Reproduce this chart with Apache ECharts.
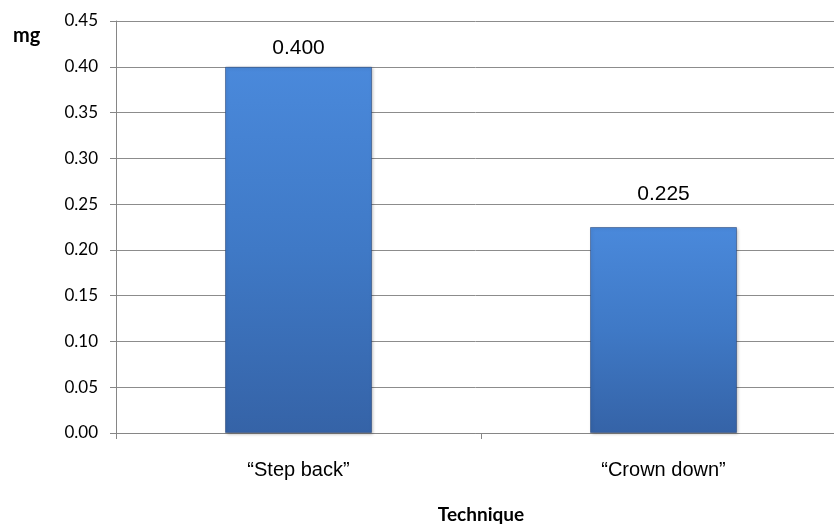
<!DOCTYPE html>
<html>
<head>
<meta charset="utf-8">
<script src="https://cdn.jsdelivr.net/npm/echarts@6/dist/echarts.min.js"></script>
<style>
  html, body { margin: 0; padding: 0; background: #ffffff; overflow: hidden; }
  #chart { width: 834px; height: 525px; }
</style>
</head>
<body>
<div id="chart"></div>
<script>
// Mass removed per instrumentation technique (mg)
const categories = ['\u201CStep back\u201D', '\u201CCrown down\u201D'];
const values = [0.400, 0.225];
const valueLabels = ['0.400', '0.225'];
const labelGaps = [8, 22];
const yTicks = { min: 0, max: 0.45, interval: 0.05 };

const chart = echarts.init(document.getElementById('chart'));

const barFill = new echarts.graphic.LinearGradient(0, 0, 0, 1, [
  { offset: 0, color: '#4a89db' },
  { offset: 0.5, color: '#3f79c6' },
  { offset: 1, color: '#3563a7' }
]);

chart.setOption({
  animation: false,
  backgroundColor: '#ffffff',
  // plot area runs slightly past the right edge of the canvas
  grid: {
    left: 116, width: 730, top: 21, height: 412,
    containLabel: false,
    outerBoundsMode: 'none'
  },
  xAxis: {
    type: 'category',
    data: categories,
    name: 'Technique',
    nameLocation: 'middle',
    nameGap: 72,
    nameTextStyle: { fontFamily: 'Lato', fontWeight: 'bold', fontSize: 19, color: '#000' },
    axisLine: { lineStyle: { color: '#868686', width: 1 } },
    axisTick: { show: true, length: 6, lineStyle: { color: '#868686' } },
    axisLabel: { margin: 27, fontFamily: 'Liberation Sans', fontSize: 20, color: '#000' }
  },
  yAxis: {
    type: 'value',
    min: yTicks.min,
    max: yTicks.max,
    interval: yTicks.interval,
    axisLine: { show: true, lineStyle: { color: '#868686', width: 1 } },
    axisTick: { show: true, length: 6, lineStyle: { color: '#868686' } },
    axisLabel: {
      margin: 18,
      fontFamily: 'Lato',
      fontSize: 17,
      color: '#000',
      formatter: v => v.toFixed(2)
    },
    splitLine: { lineStyle: { color: '#8c8c8c', width: 1 } }
  },
  graphic: [
    {
      type: 'text',
      left: 13,
      top: 26,
      style: { text: 'mg', font: 'bold 20px Lato', fill: '#000' }
    }
  ],
  series: [
    {
      type: 'bar',
      data: values.map((v, i) => ({
        value: v,
        label: { distance: labelGaps[i] }
      })),
      barWidth: 147,
      itemStyle: {
        color: barFill,
        borderColor: 'rgba(40,70,120,0.55)',
        borderWidth: 1,
        shadowColor: 'rgba(0,0,0,0.25)',
        shadowBlur: 3,
        shadowOffsetX: 1,
        shadowOffsetY: 1
      },
      label: {
        show: true,
        position: 'top',
        fontFamily: 'Liberation Sans',
        fontSize: 21,
        color: '#000',
        formatter: p => valueLabels[p.dataIndex]
      }
    }
  ]
});
</script>
</body>
</html>
